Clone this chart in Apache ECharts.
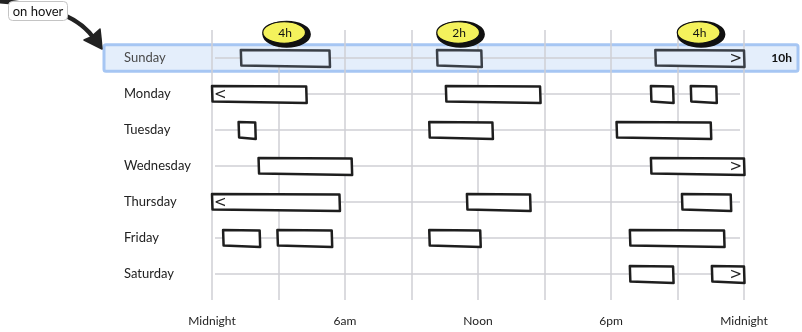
<!DOCTYPE html>
<html>
<head>
<meta charset="utf-8">
<script src="https://cdn.jsdelivr.net/npm/echarts@6/dist/echarts.min.js"></script>
<style>
  html, body { margin: 0; padding: 0; background: #fff; }
  #chart { width: 802px; height: 332px; }
</style>
</head>
<body>
<div id="chart"></div>
<script>
// Weekly activity timeline: each bar is a session, in hours from midnight.
const days = ['Sunday', 'Monday', 'Tuesday', 'Wednesday', 'Thursday', 'Friday', 'Saturday'];
const hourTicks = { 0: 'Midnight', 6: '6am', 12: 'Noon', 18: '6pm', 24: 'Midnight' };

// [start, end] of each session per day
const sunday    = [[1.3, 5.3], [10.15, 12.15], [20, 24]];
const monday    = [[0, 4.25], [10.55, 14.8], [19.8, 20.8], [21.6, 22.75]];
const tuesday   = [[1.2, 1.95], [9.8, 12.65], [18.25, 22.5]];
const wednesday = [[2.1, 6.3], [19.8, 24]];
const thursday  = [[0, 5.75], [11.5, 14.35], [21.2, 23.4]];
const friday    = [[0.5, 2.15], [2.95, 5.4], [9.8, 12.1], [18.85, 23.1]];
const saturday  = [[18.85, 20.8], [22.55, 24]];

const hoveredDay = 0; // Sunday row is shown in its hover state

const sessionsByDay = [sunday, monday, tuesday, wednesday, thursday, friday, saturday];
const sessions = [];
sessionsByDay.forEach((list, d) => list.forEach(s => sessions.push([s[0], s[1], d])));

const FONT = 'Lato';
const HILITE_FILL = '#e4eefb';
const HILITE_STROKE = '#a6c6f3';

function hoursText(h) { return Math.round(h) + 'h'; }

const chart = echarts.init(document.getElementById('chart'), null, { renderer: 'canvas' });

const sharedX = { type: 'value', min: 0, max: 24, interval: 3 };

chart.setOption({
  animation: false,
  grid: [
    { left: 212, width: 532, top: 30, height: 270 },   // gridline frame
    { left: 212, width: 532, top: 40, height: 252 }    // rows
  ],
  xAxis: [
    Object.assign({}, sharedX, {
      gridIndex: 0,
      axisLine: { show: false },
      axisTick: { show: false },
      splitLine: { show: true, lineStyle: { color: '#cfcfd4', width: 1.5 } },
      axisLabel: {
        margin: 15,
        fontFamily: FONT, fontSize: 12, color: '#222',
        formatter: v => hourTicks[v] || ''
      }
    }),
    Object.assign({}, sharedX, {
      gridIndex: 1, show: false, splitLine: { show: false }
    })
  ],
  yAxis: [
    { type: 'value', gridIndex: 0, show: false },
    {
      type: 'category', gridIndex: 1, data: days, inverse: true,
      axisLine: { show: false }, axisTick: { show: false }, splitLine: { show: false },
      axisLabel: {
        align: 'left', margin: 88,
        fontFamily: FONT, fontSize: 13,
        color: (v, i) => (i === hoveredDay ? '#4a4a4a' : '#222')
      }
    }
  ],
  series: [
    // hovered row band
    {
      type: 'custom', xAxisIndex: 1, yAxisIndex: 1, z: -10, silent: true,
      data: [[0, hoveredDay]],
      encode: { x: 0, y: 1 },
      renderItem: (params, api) => {
        const cs = params.coordSys;
        const y = api.coord([0, api.value(1)])[1];
        const h = api.size([0, 1])[1] * 0.74;
        return {
          type: 'rect',
          shape: { x: cs.x - 108, y: y - h / 2, width: cs.width + 162, height: h, r: 2 },
          style: { fill: HILITE_FILL, stroke: HILITE_STROKE, lineWidth: 3 }
        };
      }
    },
    // row guide lines
    {
      type: 'custom', xAxisIndex: 1, yAxisIndex: 1, z: 1, silent: true,
      data: days.map((d, i) => [0, i]),
      encode: { x: 0, y: 1 },
      renderItem: (params, api) => {
        const a = api.coord([0, api.value(1)]);
        const b = api.coord([24, api.value(1)]);
        return {
          type: 'line',
          shape: { x1: a[0] + 3, y1: a[1], x2: b[0] - 4, y2: b[1] },
          style: { stroke: '#cfcfd4', lineWidth: 1.5 }
        };
      }
    },
    // sessions
    {
      type: 'custom', xAxisIndex: 1, yAxisIndex: 1, z: 3, silent: true,
      data: sessions,
      encode: { x: [0, 1], y: 2 },
      renderItem: (params, api) => {
        const s = api.value(0), e = api.value(1), d = api.value(2);
        const p0 = api.coord([s, d]);
        const p1 = api.coord([e, d]);
        const x0 = p0[0], x1 = p1[0], y = p0[1];
        const children = [{
          type: 'polygon',
          shape: { points: [[x0, y - 8], [x1, y - 7.5], [x1 + 0.5, y + 9], [x0 + 0.5, y + 7.5]] },
          style: {
            fill: d === hoveredDay ? HILITE_FILL : '#fff',
            stroke: d === hoveredDay ? '#3a3f47' : '#1e1e1e',
            lineWidth: 2.5, lineJoin: 'round'
          }
        }];
        const markFont = '15px "DejaVu Sans"';
        if (s === 0) {
          children.push({ type: 'text', style: { x: x0 + 2, y: y + 1, text: '<', fill: '#222',
            font: markFont, align: 'left', verticalAlign: 'middle' } });
        }
        if (e === 24) {
          children.push({ type: 'text', style: { x: x1 - 2, y: y + 1, text: '>', fill: '#222',
            font: markFont, align: 'right', verticalAlign: 'middle' } });
        }
        return { type: 'group', children };
      }
    },
    // duration badges and daily total on the hovered row
    {
      type: 'custom', xAxisIndex: 1, yAxisIndex: 1, z: 5, silent: true,
      data: sessionsByDay[hoveredDay].map(s => [s[0], s[1], hoveredDay]),
      encode: { x: [0, 1], y: 2 },
      renderItem: (params, api) => {
        const s = api.value(0), e = api.value(1), d = api.value(2);
        const a = api.coord([s, d]);
        const b = api.coord([e, d]);
        const cx = (a[0] + b[0]) / 2, cy = a[1] - 25;
        const rx = 23, ry = 12.5;
        const ell = (dx, dy, sx, sy) =>
          'M' + (cx + dx - rx * sx) + ',' + (cy + dy) +
          'A' + (rx * sx) + ',' + (ry * sy) + ' 0 1,1 ' + (cx + dx + rx * sx) + ',' + (cy + dy) +
          'A' + (rx * sx) + ',' + (ry * sy) + ' 0 1,1 ' + (cx + dx - rx * sx) + ',' + (cy + dy) + 'Z';
        const children = [
          { type: 'path', shape: { pathData: ell(1.5, 1.2, 1.0, 0.98) },
            style: { fill: '#111', stroke: '#111', lineWidth: 2.5 } },
          { type: 'path', shape: { pathData: ell(-1, -0.5, 0.93, 0.86) },
            style: { fill: '#f4f25c', stroke: '#111', lineWidth: 1.2 } },
          { type: 'text', style: { x: cx, y: cy + 0.5, text: hoursText(e - s), fill: '#111',
            font: '12px ' + FONT, align: 'center', verticalAlign: 'middle' } }
        ];
        if (params.dataIndex === 0) {
          const total = sessionsByDay[d].reduce((t, x) => t + (x[1] - x[0]), 0);
          const cs = params.coordSys;
          children.push({ type: 'text', style: { x: cs.x + cs.width + 48, y: a[1] + 0.5,
            text: hoursText(total), fill: '#111', font: 'bold 12px ' + FONT,
            align: 'right', verticalAlign: 'middle' } });
        }
        return { type: 'group', children };
      }
    }
  ],
  graphic: [
    {
      type: 'bezierCurve', z: 20, silent: true,
      shape: { x1: -3, y1: 1, cpx1: 45, cpy1: 4, cpx2: 80, cpy2: 16, x2: 95, y2: 40 },
      style: { stroke: '#222', lineWidth: 4.5, fill: null, lineCap: 'round' }
    },
    {
      type: 'polygon', z: 21, silent: true,
      shape: { points: [[102, 49], [84, 40], [91, 37], [100, 29], [101, 38]] },
      style: { fill: '#222', stroke: '#222', lineWidth: 1.5, lineJoin: 'round' }
    },
    {
      type: 'rect', z: 22, silent: true,
      shape: { x: 8.5, y: 1.5, width: 59, height: 19, r: 4 },
      style: { fill: '#fff', stroke: '#c4c4c4', lineWidth: 1 }
    },
    {
      type: 'text', z: 23, silent: true,
      style: { x: 38, y: 11.5, text: 'on hover', fill: '#111', font: '13px ' + FONT,
        align: 'center', verticalAlign: 'middle' }
    }
  ]
});
</script>
</body>
</html>
